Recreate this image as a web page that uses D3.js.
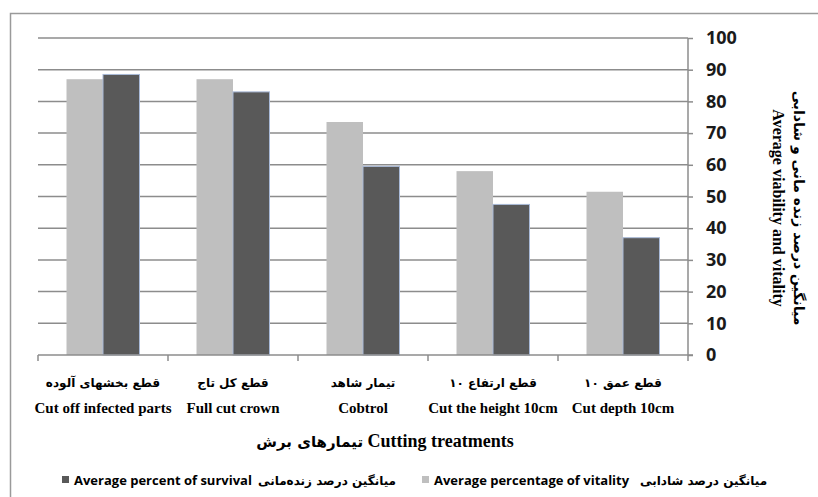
<!DOCTYPE html>
<html>
<head>
<meta charset="utf-8">
<script src="https://cdn.jsdelivr.net/npm/d3@7"></script>
<style>
  body { margin: 0; background: #fff; }
  svg { display: block; }
</style>
</head>
<body>
<svg id="chart" width="818" height="497"></svg>
<script>
// categories (fa + en) and the two series
var catsFa = ["قطع بخشهای آلوده", "قطع کل تاج", "تیمار شاهد", "قطع ارتفاع ۱۰", "قطع عمق ۱۰"];
var catsEn = ["Cut off infected parts", "Full cut crown", "Cobtrol", "Cut the height 10cm", "Cut depth 10cm"];
var vitality = [87, 87, 73.5, 58, 51.5];
var survival = [88.5, 83, 59.5, 47.5, 37];
var yTicks = [0, 10, 20, 30, 40, 50, 60, 70, 80, 90, 100];
var seriesNames = ["vitality", "survival"];

var svg = d3.select("#chart");
var plotLeft = 38, plotRight = 688, plotTop = 38, plotBottom = 355;

// outer frame
svg.append("path")
    .attr("d", "M10.5,497 V13.5 H818")
    .attr("fill", "none")
    .attr("stroke", "#9a9a9a")
    .attr("stroke-width", 1.5);

var x0 = d3.scaleBand()
    .domain(d3.range(catsEn.length))
    .range([plotLeft, plotRight]);

var x1 = d3.scaleBand()
    .domain(seriesNames)
    .range([28.5, 101.5]);

var y = d3.scaleLinear()
    .domain([0, 100])
    .range([plotBottom, plotTop]);

var colors = { vitality: "#bfbfbf", survival: "#595959" };

// gridlines
svg.append("g")
  .selectAll("line")
  .data(yTicks.filter(function(d) { return d > 0; }))
  .enter().append("line")
    .attr("x1", plotLeft)
    .attr("x2", plotRight)
    .attr("y1", function(d) { return y(d); })
    .attr("y2", function(d) { return y(d); })
    .attr("stroke", "#8c8c8c")
    .attr("stroke-width", 1.5);

// bars
var groups = svg.append("g")
  .selectAll("g")
  .data(catsEn.map(function(c, i) { return { i: i, vitality: vitality[i], survival: survival[i] }; }))
  .enter().append("g")
    .attr("transform", function(d) { return "translate(" + x0(d.i) + ",0)"; });

groups.selectAll("rect")
  .data(function(d) { return seriesNames.map(function(k) { return { key: k, value: d[k] }; }); })
  .enter().append("rect")
    .attr("x", function(d) { return x1(d.key); })
    .attr("width", x1.bandwidth())
    .attr("y", function(d) { return y(d.value); })
    .attr("height", function(d) { return y(0) - y(d.value); })
    .attr("fill", function(d) { return colors[d.key]; })
    .attr("stroke", function(d) { return d.key == "survival" ? "#a9bad8" : "none"; })
    .attr("stroke-width", 1);

// right y axis
var yAxis = d3.axisRight(y)
    .tickValues(yTicks)
    .tickSize(5)
    .tickPadding(13);

var gy = svg.append("g")
    .attr("transform", "translate(" + plotRight + ",0)")
    .call(yAxis);
gy.select(".domain").attr("stroke", "#8c8c8c").attr("stroke-width", 1.5).attr("d", "M0," + plotTop + "V" + plotBottom);
gy.selectAll(".tick line").attr("stroke", "#8c8c8c").attr("stroke-width", 1.5);
gy.selectAll(".tick text")
    .attr("fill", "#1a1a1a")
    .style("font-family", "'Open Sans', 'Liberation Sans', sans-serif")
    .style("font-weight", "bold")
    .style("font-size", "18px");

// bottom axis line and ticks at category borders
svg.append("line")
    .attr("x1", plotLeft).attr("x2", plotRight + 5)
    .attr("y1", plotBottom).attr("y2", plotBottom)
    .attr("stroke", "#8c8c8c").attr("stroke-width", 1.5);

svg.append("g")
  .selectAll("line")
  .data(d3.range(catsEn.length + 1))
  .enter().append("line")
    .attr("x1", function(d) { return d < catsEn.length ? x0(d) : plotRight; })
    .attr("x2", function(d) { return d < catsEn.length ? x0(d) : plotRight; })
    .attr("y1", plotBottom)
    .attr("y2", plotBottom + 6)
    .attr("stroke", "#8c8c8c").attr("stroke-width", 1.5);

// category labels
var cx = function(i) { return x0(i) + x0.bandwidth() / 2; };

svg.append("g")
  .selectAll("text")
  .data(catsFa)
  .enter().append("text")
    .attr("x", function(d, i) { return cx(i); })
    .attr("y", 387)
    .attr("text-anchor", "middle")
    .style("font-family", "'DejaVu Sans', sans-serif")
    .style("font-weight", "bold")
    .style("font-size", "12px")
    .text(function(d) { return d; });

svg.append("g")
  .selectAll("text")
  .data(catsEn)
  .enter().append("text")
    .attr("x", function(d, i) { return cx(i); })
    .attr("y", 413)
    .attr("text-anchor", "middle")
    .style("font-family", "'Liberation Serif', serif")
    .style("font-weight", "bold")
    .style("font-size", "15px")
    .text(function(d) { return d; });

// x title
var xt = svg.append("text")
    .attr("x", 385)
    .attr("y", 447)
    .attr("text-anchor", "middle")
    .style("font-family", "'Liberation Serif', 'DejaVu Sans', serif")
    .style("font-weight", "bold")
    .style("font-size", "18px");
xt.append("tspan").style("font-family", "'DejaVu Sans', sans-serif").style("font-size", "15px").text("تیمارهای برش");
xt.append("tspan").text(" Cutting treatments");

// y title (rotated)
var yt = svg.append("g")
    .attr("transform", "translate(790,208) rotate(90)");
yt.append("text")
    .attr("x", 0).attr("y", -4)
    .attr("text-anchor", "middle")
    .style("font-family", "'DejaVu Sans', sans-serif")
    .style("font-weight", "bold")
    .style("font-size", "14px")
    .text("میانگین درصد زنده مانی و شادابی");
yt.append("text")
    .attr("x", 0).attr("y", 17)
    .attr("text-anchor", "middle")
    .style("font-family", "'Liberation Serif', serif")
    .style("font-weight", "bold")
    .style("font-size", "16px")
    .text("Average viability and vitality");

// legend
var legendItems = [
  { key: "survival", en: "Average percent of survival", fa: "میانگین درصد زنده‌مانی", x: 62 },
  { key: "vitality", en: "Average percentage of vitality", fa: "میانگین درصد شادابی", x: 422 }
];

var lg = svg.append("g")
  .selectAll("g")
  .data(legendItems)
  .enter().append("g")
    .attr("transform", function(d) { return "translate(" + d.x + ",476)"; });

lg.append("rect")
    .attr("width", 7).attr("height", 7)
    .attr("fill", function(d) { return colors[d.key]; });

lg.append("text")
    .attr("x", 12).attr("y", 9)
    .style("font-family", "'Open Sans', 'Liberation Sans', sans-serif")
    .style("font-weight", "bold")
    .style("font-size", "13px")
    .text(function(d) { return d.en; });

lg.append("text")
    .attr("x", function(d) { return d.key == "survival" ? 196 : 218; })
    .attr("y", 9)
    .style("font-family", "'DejaVu Sans', sans-serif")
    .style("font-weight", "bold")
    .style("font-size", "12px")
    .text(function(d) { return d.fa; });
</script>
</body>
</html>
